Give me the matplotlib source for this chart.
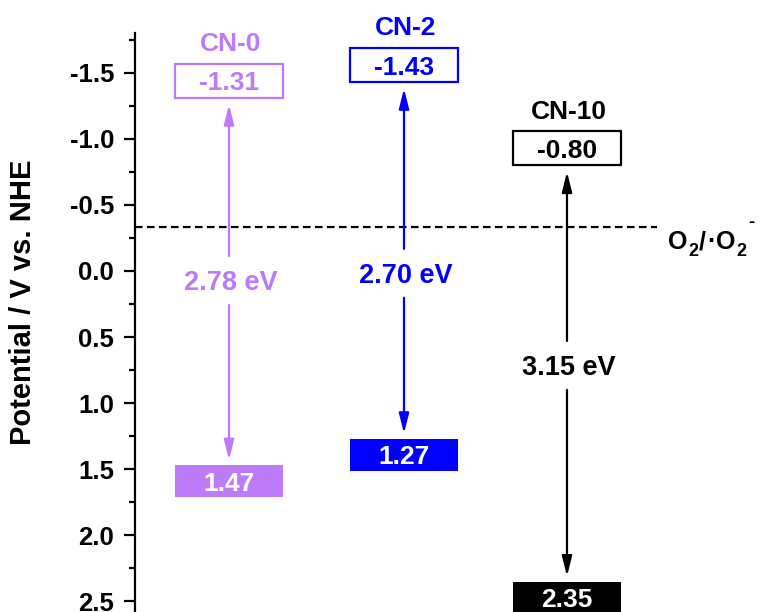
import matplotlib
matplotlib.use("Agg")
import matplotlib.pyplot as plt
from matplotlib.patches import Rectangle

plt.rcParams['font.family'] = ['Liberation Sans', 'DejaVu Sans']
plt.rcParams['axes.unicode_minus'] = False

# ---- data ----
samples = ['CN-0', 'CN-2', 'CN-10']
cb = [-1.31, -1.43, -0.80]          # conduction band potential (V vs NHE)
vb = [1.47, 1.27, 2.35]             # valence band potential (V vs NHE)
gap = ['2.78 eV', '2.70 eV', '3.15 eV']
o2_level = -0.33
yticks = [-1.5, -1.0, -0.5, 0.0, 0.5, 1.0, 1.5, 2.0, 2.5]

# ---- layout / style ----
colors = ['#BD7BF9', '#0000FF', '#000000']
col_x = [94, 269, 432]              # column centres (axis pixel units)
gap_label_y = [0.068, 0.013, 0.71]
box_w = 108
cb_h = 0.255
vb_h = 0.24
FS_TICK = 18.5
FS_BOX = 19
FS_NAME = 19
FS_GAP = 19.5

fig = plt.figure(figsize=(7.63, 6.12), dpi=100)
ax = fig.add_axes([135 / 763, 0.0, 628 / 763, 579 / 612])
ax.set_xlim(0, 628)
ax.set_ylim(2.58, -1.8)

for s in ['top', 'right', 'bottom']:
    ax.spines[s].set_visible(False)
ax.spines['left'].set_linewidth(1.6)
ax.set_xticks([])
ax.set_yticks(yticks)
ax.set_yticklabels([f'{t:.1f}' for t in yticks], fontweight='bold', fontsize=FS_TICK)
ax.set_yticks([t + 0.25 for t in yticks[:-1]] + [-1.75], minor=True)
ax.tick_params(axis='y', which='major', length=8, width=1.6, pad=7, direction='out')
ax.tick_params(axis='y', which='minor', length=4.5, width=1.6, direction='out')

# O2 reference line
ax.plot([0, 522], [o2_level, o2_level], color='black', lw=1.6,
        linestyle=(0, (3.4, 2.0)), clip_on=False)
o2_kw = dict(fontweight='bold', color='black', ha='left', va='baseline', clip_on=False)
yb = o2_level + 0.164
ys = yb + 0.053
ax.text(533, yb, 'O', fontsize=18, **o2_kw)
ax.text(553.5, ys, '2', fontsize=13, **o2_kw)
ax.text(564, yb, '/', fontsize=18, **o2_kw)
ax.text(572, yb, '·', fontsize=18, **o2_kw)
ax.text(581, yb, 'O', fontsize=18, **o2_kw)
ax.text(601.5, ys, '2', fontsize=13, **o2_kw)
ax.text(613, o2_level - 0.035, '-', fontsize=13, fontweight='bold', color='black',
        ha='left', va='center', clip_on=False)

for i, name in enumerate(samples):
    x = col_x[i]
    c = colors[i]
    # CB box (outlined)
    ax.add_patch(Rectangle((x - box_w / 2, cb[i] - cb_h), box_w, cb_h,
                           facecolor='white', edgecolor=c, lw=1.6, clip_on=False))
    ax.text(x, cb[i] - cb_h / 2, f'{cb[i]:.2f}', color=c, fontsize=FS_BOX,
            fontweight='bold', ha='center', va='center_baseline')
    # VB box (filled)
    ax.add_patch(Rectangle((x - box_w / 2, vb[i]), box_w, vb_h,
                           facecolor=c, edgecolor=c, lw=0, clip_on=True))
    ax.text(x, vb[i] + vb_h / 2, f'{vb[i]:.2f}', color='white', fontsize=FS_BOX,
            fontweight='bold', ha='center', va='center_baseline')
    # sample label
    ax.text(x + 2, cb[i] - cb_h - 0.17, name, color=c, fontsize=FS_NAME,
            fontweight='bold', ha='center', va='center_baseline', clip_on=False)
    # gap arrows (split around label)
    gy = gap_label_y[i]
    ap = dict(arrowstyle='-|>,head_length=1.2,head_width=0.3', color=c, lw=1.6,
              mutation_scale=10, shrinkA=0, shrinkB=0)
    ax.annotate('', xy=(x, cb[i] + 0.05), xytext=(x, gy - 0.18), arrowprops=ap)
    ax.annotate('', xy=(x, vb[i] - 0.04), xytext=(x, gy + 0.19), arrowprops=ap)
    ax.text(x + 2, gy, gap[i], color=c, fontsize=FS_GAP, fontweight='bold',
            ha='center', va='center_baseline')

fig.text(23 / 763, 1 - 302 / 612, 'Potential / V vs. NHE', rotation=90,
         fontsize=21, fontweight='bold', ha='center', va='center')

fig.savefig('out.png', dpi=100)
